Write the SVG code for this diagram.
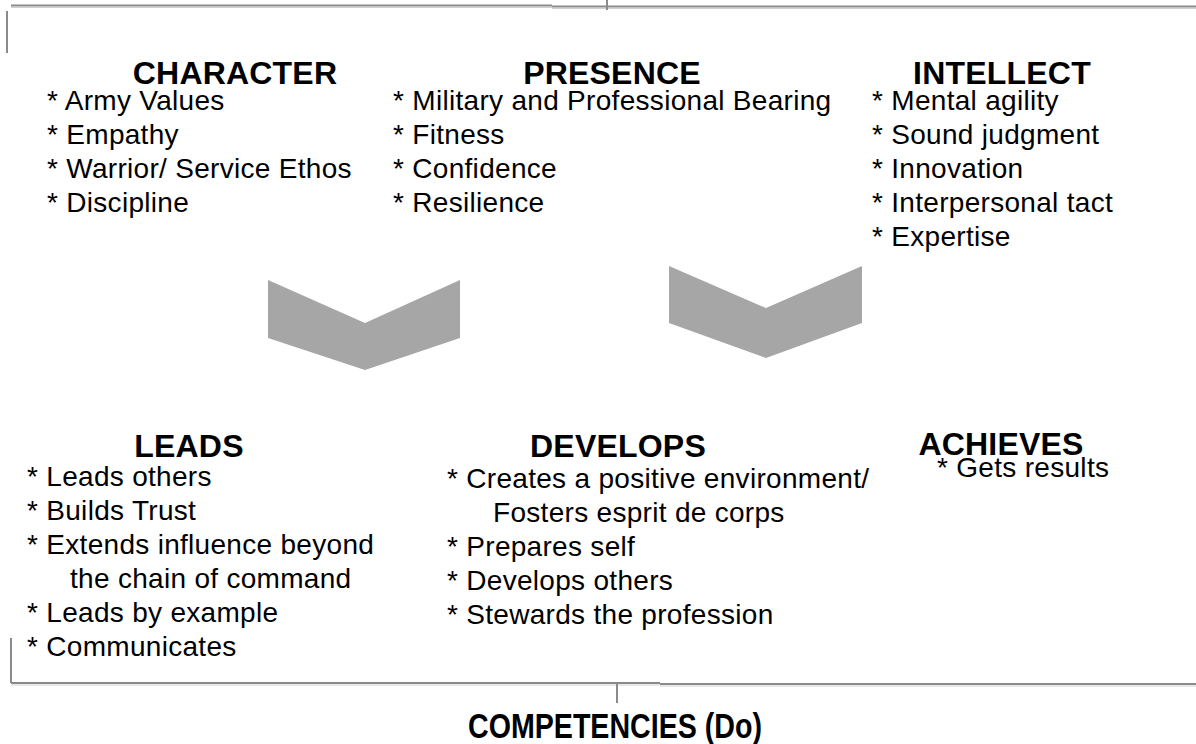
<svg xmlns="http://www.w3.org/2000/svg" width="1196" height="744" viewBox="0 0 1196 744">
<style>
.t{font-family:"Liberation Sans",Arial,sans-serif;font-weight:bold;font-size:32px;letter-spacing:0.2px;fill:#000;text-anchor:middle}
.b{font-family:"Liberation Sans",Arial,sans-serif;font-size:28px;letter-spacing:0.3px;fill:#000}
.ln{stroke:#8a8a8a;stroke-width:2;fill:none}
.sh{stroke:#d0d0d0;stroke-width:1;fill:none}
.chev{fill:#a6a6a6}
</style>
<rect width="1196" height="744" fill="#fff"/>
<g id="connectors">
  <line class="sh" x1="11" y1="7.5" x2="552" y2="7.5"/>
  <line class="sh" x1="552" y1="8.5" x2="1196" y2="8.5"/>
  <line class="ln" x1="11" y1="5.5" x2="552" y2="5.5"/>
  <line class="ln" x1="552" y1="6.5" x2="1196" y2="6.5"/>
  <line class="ln" x1="607" y1="0" x2="607" y2="10"/>
  <line class="ln" x1="7" y1="11" x2="7" y2="53"/>
  <line class="ln" x1="11" y1="638" x2="11" y2="683"/>
  <line class="sh" x1="11" y1="685" x2="660" y2="685"/>
  <line class="sh" x1="660" y1="686" x2="1196" y2="686"/>
  <line class="ln" x1="11" y1="683" x2="660" y2="683"/>
  <line class="ln" x1="660" y1="684" x2="1196" y2="684"/>
  <line class="ln" x1="617" y1="684" x2="617" y2="703"/>
  <polygon class="chev" points="268,280 365,323 460,280 460,338 365,370 268,338"/>
  <polygon class="chev" points="669,266 766,308 862,266 862,323 766,358 669,323"/>
</g>
<g id="character">
  <text class="t" x="235" y="84">CHARACTER</text>
  <text class="b" x="47" y="110">* Army Values</text>
  <text class="b" x="47" y="144">* Empathy</text>
  <text class="b" x="47" y="178">* Warrior/ Service Ethos</text>
  <text class="b" x="47" y="212">* Discipline</text>
</g>
<g id="presence">
  <text class="t" x="612" y="84">PRESENCE</text>
  <text class="b" x="393" y="110">* Military and Professional Bearing</text>
  <text class="b" x="393" y="144">* Fitness</text>
  <text class="b" x="393" y="178">* Confidence</text>
  <text class="b" x="393" y="212">* Resilience</text>
</g>
<g id="intellect">
  <text class="t" x="1002" y="84">INTELLECT</text>
  <text class="b" x="872" y="110">* Mental agility</text>
  <text class="b" x="872" y="144">* Sound judgment</text>
  <text class="b" x="872" y="178">* Innovation</text>
  <text class="b" x="872" y="212">* Interpersonal tact</text>
  <text class="b" x="872" y="246">* Expertise</text>
</g>
<g id="leads">
  <text class="t" x="189" y="457">LEADS</text>
  <text class="b" x="27" y="486">* Leads others</text>
  <text class="b" x="27" y="520">* Builds Trust</text>
  <text class="b" x="27" y="554">* Extends influence beyond</text>
  <text class="b" x="70" y="588">the chain of command</text>
  <text class="b" x="27" y="622">* Leads by example</text>
  <text class="b" x="27" y="656">* Communicates</text>
</g>
<g id="develops">
  <text class="t" x="618" y="457">DEVELOPS</text>
  <text class="b" x="447" y="488">* Creates a positive environment/</text>
  <text class="b" x="493" y="522">Fosters esprit de corps</text>
  <text class="b" x="447" y="556">* Prepares self</text>
  <text class="b" x="447" y="590">* Develops others</text>
  <text class="b" x="447" y="624">* Stewards the profession</text>
</g>
<g id="achieves">
  <text class="t" x="1001" y="455">ACHIEVES</text>
  <text class="b" x="937" y="477">* Gets results</text>
</g>
<g id="competencies">
  <text x="615" y="738" font-family="'Liberation Sans',Arial,sans-serif" font-weight="bold" font-size="35" text-anchor="middle" textLength="294" lengthAdjust="spacingAndGlyphs">COMPETENCIES (Do)</text>
</g>
</svg>
